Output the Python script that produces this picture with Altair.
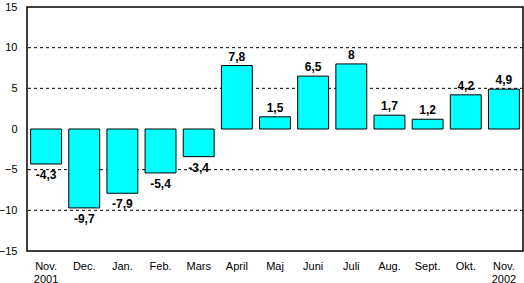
import altair as alt
import pandas as pd

months = ["Nov. 2001", "Dec.", "Jan.", "Feb.", "Mars", "April", "Maj", "Juni",
          "Juli", "Aug.", "Sept.", "Okt.", "Nov. 2002"]
values = [-4.3, -9.7, -7.9, -5.4, -3.4, 7.8, 1.5, 6.5, 8.0, 1.7, 1.2, 4.2, 4.9]
labels = ["-4,3", "-9,7", "-7,9", "-5,4", "-3,4", "7,8", "1,5", "6,5", "8", "1,7", "1,2", "4,2", "4,9"]
grid_values = [-10, -5, 5, 10]
y_ticks = [-15, -10, -5, 0, 5, 10, 15]

df = pd.DataFrame({"month": months, "value": values, "label": labels})
grid = pd.DataFrame({"g": grid_values})

xenc = alt.X("month:N", sort=months, title=None,
             scale=alt.Scale(paddingInner=0.19),
             axis=alt.Axis(labelAngle=0, ticks=False, domain=False,
                           labelExpr="split(datum.label, ' ')",
                           labelFont="Liberation Sans", labelFontSize=11,
                           labelColor="black", labelPadding=9, labelLineHeight=13))
yscale = alt.Scale(domain=[-15, 15], nice=False)
yenc = alt.Y("value:Q", scale=yscale, title=None,
             axis=alt.Axis(values=y_ticks, grid=False, ticks=False, domain=False,
                           labelFont="Liberation Sans", labelFontSize=11,
                           labelColor="black", labelPadding=10))

gridlayer = alt.Chart(grid).mark_rule(color="black", strokeDash=[3, 3], strokeWidth=1).encode(
    y=alt.Y("g:Q", scale=yscale))

bars = alt.Chart(df).mark_bar(color="#00FFFF", stroke="black", strokeWidth=1).encode(
    x=xenc, y=yenc, y2=alt.datum(0))

pos = alt.Chart(df).transform_filter("datum.value >= 0").mark_text(
    baseline="alphabetic", dy=-5, font="Liberation Sans", fontWeight="bold",
    fontSize=12, color="black").encode(
    x=alt.X("month:N", sort=months), y=alt.Y("value:Q", scale=yscale), text="label:N")

neg = alt.Chart(df).transform_filter("datum.value < 0").mark_text(
    baseline="top", dy=6, font="Liberation Sans", fontWeight="bold",
    fontSize=12, color="black").encode(
    x=alt.X("month:N", sort=months), y=alt.Y("value:Q", scale=yscale), text="label:N")

chart = alt.layer(gridlayer, bars, pos, neg).properties(
    width=496, height=244,
    autosize=alt.AutoSizeParams(type="none"),
    padding={"left": 27, "top": 7, "right": 1, "bottom": 32},
    background="white",
).configure_view(stroke="black", strokeWidth=1.5)

chart.save("out.html", embed_options={"renderer": "svg", "actions": False})
